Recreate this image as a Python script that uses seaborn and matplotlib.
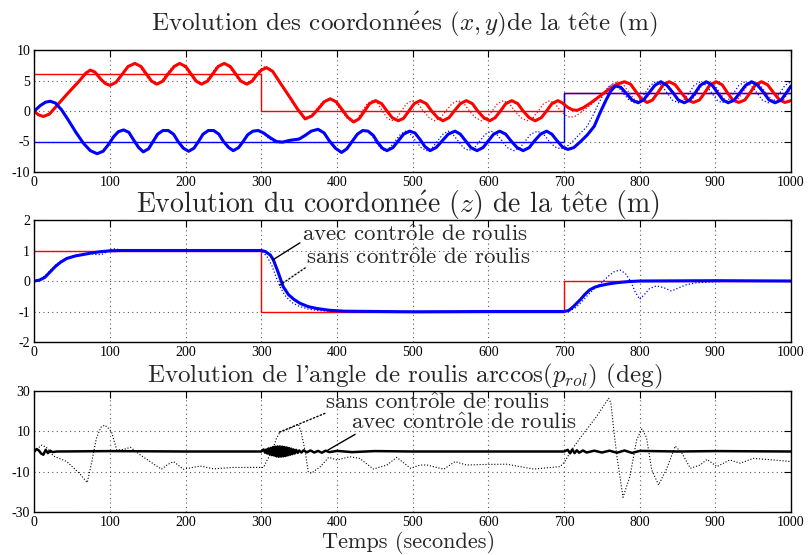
import numpy as np
import pandas as pd
import matplotlib
matplotlib.use("Agg")
import matplotlib.pyplot as plt
import seaborn as sns

# %% donnees

# consignes (echelons)
t_ref = [0, 300, 300, 700, 700, 1000]
x_ref = [6, 6, 0, 0, 3, 3]
y_ref = [-5, -5, -5, -5, 3, 3]
z_ref = [1, 1, -1, -1, 0, 0]

# x avec controle de roulis (rouge epais)
t_x_avec = [0, 5, 12, 20, 30, 45, 60, 68, 74, 80, 88, 94, 100, 108, 116, 124, 133, 141, 148, 155,
            162, 170, 177, 185, 192, 200, 207, 214, 221, 229, 236, 243, 251, 259, 266, 273, 281,
            288, 294, 300, 307, 315, 325, 338, 348, 358, 367, 375, 383, 391, 399, 407, 414, 422,
            429, 436, 443, 451, 459, 466, 473, 481, 488, 495, 502, 510, 518, 525, 533, 540, 548,
            555, 563, 571, 579, 586, 594, 602, 609, 616, 623, 631, 639, 646, 654, 662, 670, 677,
            684, 692, 698, 705, 711, 717, 725, 735, 748, 760, 770, 780, 788, 795, 802, 810, 817,
            824, 831, 839, 847, 855, 863, 871, 879, 886, 893, 901, 909, 916, 923, 931, 939, 946,
            953, 961, 969, 977, 985, 992, 1000]
x_avec = [0, -0.6, -0.9, -0.5, 0.9, 3.0, 5.0, 6.2, 6.7, 6.4, 5.2, 4.5, 4.2, 4.7, 6.0, 7.3, 7.8, 7.3,
          6.1, 4.9, 4.4, 4.9, 6.1, 7.3, 7.8, 7.3, 6.1, 4.9, 4.4, 4.9, 6.1, 7.3, 7.8, 7.3, 6.1, 4.9,
          4.4, 4.9, 5.9, 6.7, 7.1, 6.5, 4.6, 2.2, 0.3, -1.3, -0.8, 0.3, 1.5, 2.0, 1.5, 0.2, -1.0,
          -1.8, -1.3, -0.1, 1.2, 1.7, 1.2, 0, -1.1, -1.6, -1.2, 0, 1.2, 1.7, 1.2, 0, -1.1, -1.6,
          -1.1, 0, 1.2, 1.7, 1.2, 0, -1.1, -1.6, -1.1, 0, 1.2, 1.7, 1.2, 0, -1.1, -1.6, -1.1, 0,
          1.2, 1.7, 1.3, 0.6, 0.2, 0.1, 0.5, 1.3, 2.5, 3.6, 4.4, 4.8, 4.4, 3.2, 2.0, 1.4, 1.8, 3.0,
          4.3, 4.8, 4.3, 3.0, 1.8, 1.4, 1.8, 3.0, 4.3, 4.8, 4.3, 3.0, 1.8, 1.4, 1.8, 3.0, 4.3, 4.8,
          4.3, 3.0, 1.8, 1.4, 1.7]

# x sans controle de roulis (rouge pointille)
t_x_sans = [0, 5, 12, 20, 30, 45, 60, 68, 73, 79, 87, 93, 99, 107, 115, 123, 131, 139, 146, 153,
            160, 168, 175, 183, 190, 198, 205, 212, 219, 227, 234, 241, 249, 257, 264, 271, 279,
            286, 292, 298, 305, 313, 323, 336, 346, 356, 365, 373, 381, 389, 397, 405, 412, 420,
            427, 433, 440, 447, 454, 460, 466, 472, 479, 485, 492, 499, 507, 514, 522, 529, 537,
            544, 552, 560, 568, 575, 583, 591, 598, 605, 612, 620, 628, 635, 643, 651, 659, 666,
            673, 681, 688, 695, 702, 708, 716, 725, 735, 748, 758, 764, 770, 778, 785, 792, 800,
            807, 814, 821, 829, 837, 845, 853, 861, 869, 876, 883, 891, 899, 906, 913, 921, 929,
            936, 943, 951, 959, 967, 975, 982, 990, 996, 1000]
x_sans = [0, -0.6, -0.9, -0.5, 0.9, 3.0, 5.0, 6.2, 6.7, 6.4, 5.2, 4.5, 4.2, 4.7, 6.0, 7.3, 7.8, 7.3,
          6.1, 4.9, 4.4, 4.9, 6.1, 7.3, 7.8, 7.3, 6.1, 4.9, 4.4, 4.9, 6.1, 7.3, 7.8, 7.3, 6.1, 4.9,
          4.4, 4.9, 5.9, 6.8, 7.3, 6.8, 4.9, 2.4, 0.4, -1.2, -0.8, 0.3, 1.5, 2.0, 1.5, 0.2, -1.0,
          -1.8, -1.3, -0.1, 1.2, 1.7, 1.2, 0, -1.1, -1.6, -1.2, 0, 1.2, 1.7, 1.2, 0, -1.1, -1.6,
          -1.1, 0, 1.2, 1.7, 1.2, 0, -1.1, -1.6, -1.1, 0, 1.2, 1.7, 1.2, 0, -1.1, -1.6, -1.1, 0,
          1.2, 1.7, 1.2, 0.1, -0.7, -1.05, -0.8, 0.0, 1.0, 2.4, 3.7, 4.4, 4.8, 4.4, 3.2, 2.0, 1.4,
          1.8, 3.0, 4.3, 4.8, 4.3, 3.0, 1.8, 1.4, 1.8, 3.0, 4.3, 4.8, 4.3, 3.0, 1.8, 1.4, 1.8, 3.0,
          4.3, 4.8, 4.3, 3.0, 1.8, 1.4, 1.8, 3.0, 3.7]

# y avec controle de roulis (bleu epais)
t_y_avec = [0, 8, 15, 21, 28, 36, 45, 55, 65, 74, 83, 91, 98, 105, 111, 118, 125, 131, 138, 144,
            151, 157, 163, 170, 177, 184, 190, 197, 204, 211, 217, 223, 230, 237, 244, 250, 257,
            263, 270, 276, 282, 289, 296, 303, 312, 320, 328, 338, 350, 358, 366, 375, 383, 390,
            398, 406, 413, 420, 427, 434, 441, 448, 454, 460, 466, 474, 481, 488, 496, 503, 510,
            516, 523, 531, 539, 547, 556, 563, 570, 577, 585, 593, 600, 607, 615, 623, 630, 638,
            646, 654, 661, 669, 677, 684, 691, 698, 705, 713, 722, 731, 740, 748, 756, 762, 768,
            775, 783, 790, 798, 805, 812, 820, 828, 836, 844, 851, 859, 866, 873, 880, 888, 896,
            903, 910, 917, 925, 932, 940, 948, 956, 964, 971, 979, 987, 994, 1000]
y_avec = [0, 0.9, 1.45, 1.6, 1.3, 0.2, -1.5, -3.5, -5.3, -6.5, -7.0, -6.6, -5.5, -4.2, -3.4, -3.1,
          -3.5, -4.7, -6.0, -6.7, -6.2, -5.0, -3.8, -3.2, -3.2, -3.8, -5.0, -6.1, -6.6, -6.1, -5.0,
          -3.8, -3.2, -3.2, -3.8, -5.0, -6.0, -6.5, -6.0, -5.0, -3.9, -3.3, -3.2, -3.6, -4.4, -5.0,
          -5.1, -4.8, -4.6, -4.0, -3.3, -3.0, -3.6, -4.9, -6.1, -6.8, -6.2, -5.0, -3.8, -3.2, -3.3,
          -4.0, -5.2, -6.1, -6.5, -6.0, -4.9, -3.8, -3.3, -3.6, -4.7, -5.8, -6.5, -6.0, -4.9, -3.8,
          -3.3, -3.8, -4.9, -6.0, -6.5, -6.0, -4.9, -3.8, -3.3, -3.8, -4.9, -6.0, -6.5, -6.0, -4.9,
          -3.8, -3.3, -3.8, -4.9, -5.9, -6.3, -6.0, -5.0, -3.9, -2.5, -0.2, 1.9, 3.3, 4.1, 3.9, 2.8,
          1.8, 1.35, 1.8, 2.9, 4.2, 4.8, 4.2, 3.0, 1.8, 1.35, 1.8, 2.9, 4.2, 4.8, 4.2, 3.0, 1.8,
          1.35, 1.8, 2.9, 4.2, 4.8, 4.2, 3.0, 1.8, 1.35, 1.8, 3.0, 4.1]

# y sans controle de roulis (bleu pointille)
t_y_sans = [0, 8, 15, 21, 28, 36, 45, 55, 65, 74, 82, 90, 97, 104, 110, 117, 124, 130, 137, 143,
            150, 156, 162, 169, 176, 183, 189, 196, 203, 210, 216, 222, 229, 236, 243, 249, 256,
            262, 269, 275, 281, 288, 295, 302, 311, 320, 328, 338, 350, 358, 366, 374, 382, 389,
            397, 405, 412, 419, 426, 433, 440, 446, 452, 458, 463, 470, 477, 484, 491, 497, 504,
            511, 519, 526, 533, 540, 547, 553, 560, 567, 574, 582, 589, 596, 604, 611, 618, 625,
            634, 642, 649, 656, 665, 673, 680, 688, 696, 704, 713, 722, 730, 738, 746, 753, 759,
            765, 772, 779, 786, 793, 800, 807, 814, 821, 829, 836, 843, 851, 858, 865, 872, 880,
            888, 895, 902, 909, 917, 924, 931, 939, 947, 955, 962, 970, 978, 985, 992, 1000]
y_sans = [0, 0.9, 1.45, 1.6, 1.3, 0.2, -1.5, -3.5, -5.3, -6.5, -7.0, -6.6, -5.5, -4.2, -3.4, -3.1,
          -3.5, -4.7, -6.0, -6.7, -6.2, -5.0, -3.8, -3.2, -3.2, -3.8, -5.0, -6.1, -6.6, -6.1, -5.0,
          -3.8, -3.2, -3.2, -3.8, -5.0, -6.0, -6.5, -6.0, -5.0, -3.9, -3.3, -3.2, -3.7, -4.6, -5.2,
          -5.2, -4.9, -4.5, -3.8, -3.2, -3.0, -3.6, -4.9, -6.1, -6.8, -6.2, -5.0, -3.8, -3.2, -3.3,
          -4.0, -5.2, -6.1, -6.5, -6.0, -4.9, -3.8, -3.3, -3.8, -4.9, -6.0, -6.5, -6.0, -4.9, -3.8,
          -3.3, -3.8, -4.9, -6.0, -6.5, -6.0, -4.9, -3.8, -3.3, -3.8, -4.9, -6.0, -6.5, -6.0, -4.9,
          -3.8, -3.3, -3.8, -4.9, -5.9, -6.2, -5.8, -4.8, -3.6, -2.6, -0.8, 1.3, 3.0, 4.0, 4.4, 3.9,
          2.8, 1.8, 1.35, 1.8, 2.9, 4.2, 4.8, 4.2, 3.0, 1.8, 1.35, 1.8, 2.9, 4.2, 4.8, 4.2, 3.0,
          1.8, 1.35, 1.8, 2.9, 4.2, 4.8, 4.2, 3.0, 1.8, 1.35, 1.8, 2.9, 4.2, 4.8]

# z avec / sans controle de roulis
t_z_avec = [0, 7, 14, 21, 28, 35, 43, 54, 65, 76, 87, 100, 115, 200, 300, 305, 312, 316, 322,
            329, 336, 343, 351, 362, 373, 390, 410, 500, 600, 700, 706, 712, 718, 722, 728, 734,
            741, 748, 760, 772, 785, 800, 900, 1000]
z_avec = [0, 0.03, 0.12, 0.3, 0.48, 0.62, 0.74, 0.82, 0.87, 0.92, 0.96, 0.99, 1.0, 1.0, 1.0, 0.97,
          0.85, 0.69, 0.3, -0.19, -0.45, -0.6, -0.73, -0.84, -0.9, -0.96, -0.99, -1.01, -1.0, -1.0,
          -0.97, -0.85, -0.7, -0.6, -0.43, -0.29, -0.2, -0.15, -0.09, -0.05, -0.02, 0, 0.01, 0.0]
t_z_sans = [0, 7, 14, 21, 28, 35, 43, 54, 65, 75, 83, 90, 97, 104, 110, 118, 150, 200, 250, 296,
            302, 308, 314, 320, 326, 332, 340, 350, 362, 375, 390, 420, 500, 600, 700, 708, 715,
            722, 730, 740, 750, 758, 766, 774, 781, 788, 794, 800, 806, 813, 822, 832, 842, 852,
            862, 875, 895, 920, 1000]
z_sans = [0, 0.05, 0.17, 0.35, 0.52, 0.65, 0.76, 0.84, 0.89, 0.9, 0.86, 0.88, 0.97, 1.06, 1.04,
          1.0, 1.0, 0.99, 1.0, 1.0, 0.95, 0.78, 0.5, 0.1, -0.25, -0.5, -0.7, -0.83, -0.92, -0.97,
          -0.99, -1.0, -1.0, -1.0, -1.0, -0.97, -0.88, -0.72, -0.5, -0.25, -0.05, 0.15, 0.3, 0.36,
          0.25, 0.0, -0.35, -0.6, -0.45, -0.25, -0.16, -0.22, -0.33, -0.22, -0.12, -0.06, -0.03,
          0.0, 0.0]

# angle de roulis (deg)
t_r_avec = [0, 3, 6, 9, 12, 15, 18, 21, 24, 30, 100, 200, 300, 303, 305, 306.5, 308, 309.5, 311,
            312.5, 314, 315.5, 317, 318.5, 320, 321.5, 323, 324.5, 326, 327.5, 329, 330.5, 332,
            333.5, 335, 336.5, 338, 339.5, 341, 342.5, 344, 346, 348, 350, 353, 356, 360, 365,
            370, 375, 380, 385, 390, 400, 420, 450, 500, 600, 700, 705, 708, 711, 714, 717, 720,
            725, 730, 740, 750, 760, 770, 780, 790, 800, 850, 900, 1000]
r_avec = [0, 1.2, 0.5, -1.0, -1.6, 0.8, -0.8, 0.4, -0.3, 0, 0.2, 0, 0, 1.0, -0.6, 1.0, -1.0, 1.5,
          -1.4, 1.8, -1.8, 2.2, -2.0, 2.4, -2.4, 2.5, -2.6, 2.5, -2.5, 2.4, -2.4, 2.2, -2.2, 2.0,
          -1.9, 1.7, -1.6, 1.4, -1.3, 1.0, -1.0, 0.8, -0.7, 0.5, -0.5, 0.6, -0.4, 0.5, -0.5, 0.3,
          -0.6, 0.4, -0.3, 0.3, -0.3, 0.2, 0, 0, 0, 0.8, -0.9, 1.0, -0.8, 0.6, -0.6, 0.5, -0.5,
          0.4, -0.5, 0.4, -0.6, 0.5, -0.7, 0.3, 0, 0.2, 0]
t_r_sans = [0, 10, 16, 25, 43, 60, 70, 76, 82, 88, 93, 98, 102, 109, 118, 127, 140, 155, 168,
            176, 184, 197, 219, 237, 263, 290, 303, 308, 314, 320, 325, 338, 349, 353, 358, 362,
            366, 378, 389, 400, 417, 430, 448, 466, 479, 497, 510, 519, 541, 556, 571, 598, 624,
            660, 695, 701, 710, 721, 743, 759, 762, 766, 770, 778, 787, 796, 803, 809, 816, 825,
            836, 847, 856, 867, 880, 889, 902, 919, 933, 950, 977, 1000]
r_sans = [0.2, 3.2, 2.0, -2.2, -5.0, -11.0, -15.4, -5.0, 6.5, 12.0, 13.1, 11.5, 9.8, 0.7, 1.0, 2.1,
          -1.7, -5.5, -8.8, -6.5, -5.0, -8.8, -7.2, -8.6, -7.9, -7.9, -7.9, -4.0, 0.0, 6.5, 9.8,
          11.4, 13.6, 9.0, 0.0, -10.0, -10.8, -7.5, -2.9, -4.2, -2.6, -3.4, -8.7, -6.7, -2.9, -8.3,
          -6.7, -6.7, -8.8, -5.0, -6.7, -6.4, -6.3, -8.7, -7.5, -5.0, 0.7, 6.5, 17.3, 26.4, 24.0,
          10.0, -2.6, -22.7, -12.5, 5.7, 11.2, 7.0, -9.2, -16.6, -8.3, 2.7, -0.9, -8.3, -6.7, -3.9,
          -7.5, -4.2, -5.8, -3.4, -4.2, -5.0]

# %% style

sns.set_theme(style="white")
plt.rcParams["font.family"] = ["Liberation Serif", "DejaVu Serif"]
plt.rcParams["mathtext.fontset"] = "cm"
plt.rcParams["axes.unicode_minus"] = False

cm_font = ["cmr10", "DejaVu Serif"]
titre_font = dict(family=cm_font, size=18)
annot_font = dict(family=cm_font, size=16.5)

# accents en mathtext (cmr10 n'a pas les lettres accentuees)
e_aigu = r"$\mathrm{\acute{e}}$"
e_circ = r"$\mathrm{\hat{e}}$"
o_circ = r"$\mathrm{\hat{o}}$"
txt_avec = "avec contr" + o_circ + "le de roulis"
txt_sans = "sans contr" + o_circ + "le de roulis"

fig = plt.figure(figsize=(8.08, 5.55), dpi=100)

gauche, largeur = 34.3 / 808, 756.7 / 808
ax1 = fig.add_axes([gauche, 1 - 172 / 555, largeur, 122 / 555])
ax2 = fig.add_axes([gauche, 1 - 342 / 555, largeur, 122 / 555])
ax3 = fig.add_axes([gauche, 1 - 512 / 555, largeur, 121 / 555])


def trace(ax, t, v, **kw):
    sns.lineplot(x=t, y=v, ax=ax, estimator=None, sort=False, legend=False, **kw)


def habille(ax, ylim, yticks):
    ax.set_xlim(0, 1000)
    ax.set_ylim(*ylim)
    ax.set_xticks(range(0, 1001, 100))
    ax.set_yticks(yticks)
    ax.grid(True, linestyle=(0, (1, 3)), color="0.35", lw=0.8)
    ax.tick_params(direction="in", top=True, right=True, length=5, width=0.8,
                   labelsize=10, colors="black", pad=3)
    for s in ax.spines.values():
        s.set_color("black")
        s.set_linewidth(1.0)
    ax.set_xlabel("")
    ax.set_ylabel("")


# %% (x, y)
trace(ax1, t_ref, x_ref, color="red", lw=1.0)
trace(ax1, t_ref, y_ref, color="blue", lw=1.0)
trace(ax1, t_x_sans, x_sans, color="red", lw=0.9, linestyle=":")
trace(ax1, t_y_sans, y_sans, color="blue", lw=0.9, linestyle=":")
trace(ax1, t_x_avec, x_avec, color="red", lw=2.2)
trace(ax1, t_y_avec, y_avec, color="blue", lw=2.2)
habille(ax1, (-10, 10), [-10, -5, 0, 5, 10])
ax1.set_title("Evolution des coordonn" + e_aigu + r"es $(x,y)$de la t" + e_circ + "te (m)",
              fontdict=titre_font, pad=14, x=0.489)

# %% z
trace(ax2, t_ref, z_ref, color="red", lw=1.0)
trace(ax2, t_z_sans, z_sans, color="blue", lw=0.9, linestyle=":")
trace(ax2, t_z_avec, z_avec, color="blue", lw=2.2)
habille(ax2, (-2, 2), [-2, -1, 0, 1, 2])
ax2.set_title("Evolution du coordonn" + e_aigu + r"e $(z)$ de la t" + e_circ + "te (m)",
              fontdict=dict(family=cm_font, size=20), pad=5, x=0.48)
ax2.annotate("", xy=(315, 0.69), xytext=(351, 1.25),
             arrowprops=dict(arrowstyle="-", color="black", lw=1.0, shrinkA=0, shrinkB=0))
ax2.annotate("", xy=(323, -0.16), xytext=(358, 0.43),
             arrowprops=dict(arrowstyle="-", color="black", lw=1.0, linestyle=":",
                             shrinkA=0, shrinkB=0))
ax2.text(354, 1.5, txt_avec, ha="left", va="center", fontdict=annot_font)
ax2.text(359, 0.75, txt_sans, ha="left", va="center", fontdict=annot_font)

# %% roulis
trace(ax3, t_r_sans, r_sans, color="black", lw=0.8, linestyle=":")
trace(ax3, t_r_avec, r_avec, color="black", lw=1.8)
habille(ax3, (-30, 30), [-30, -10, 10, 30])
ax3.set_title(r"Evolution de l'angle de roulis arccos$(p_{rol})$ (deg)", fontdict=titre_font,
              pad=6, x=0.489)
ax3.annotate("", xy=(322, 9.3), xytext=(384, 18.9),
             arrowprops=dict(arrowstyle="-", color="black", lw=1.0, linestyle=":",
                             shrinkA=0, shrinkB=0))
ax3.annotate("", xy=(388, 0.7), xytext=(424, 8.5),
             arrowprops=dict(arrowstyle="-", color="black", lw=1.0, shrinkA=0, shrinkB=0))
ax3.text(384, 23.9, txt_sans, ha="left", va="center", fontdict=annot_font)
ax3.text(419, 14, txt_avec, ha="left", va="center", fontdict=annot_font)
ax3.set_xlabel("Temps (secondes)", fontdict=dict(family=cm_font, size=16))
ax3.xaxis.set_label_coords(0.495, -0.16)

fig.savefig("out.png", dpi=100)
